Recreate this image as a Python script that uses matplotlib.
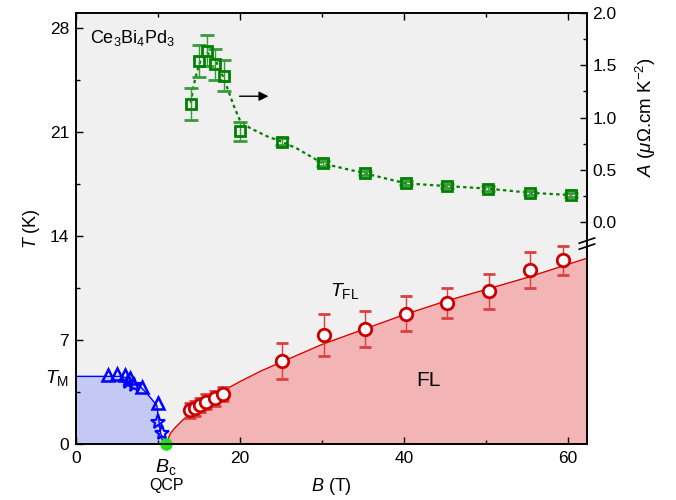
import matplotlib
matplotlib.use('Agg')
from matplotlib import pyplot as plt
from matplotlib.ticker import MultipleLocator, FixedLocator, FormatStrFormatter

plt.rcParams['font.family'] = 'Liberation Sans'
plt.rcParams['mathtext.fontset'] = 'custom'
plt.rcParams['mathtext.rm'] = 'Liberation Sans'
plt.rcParams['mathtext.it'] = 'Liberation Sans:italic'
plt.rcParams['font.size'] = 12.5

# magnetic order boundary (T_M)
tri_B = [3.9, 5.0, 6.0, 6.6, 8.0, 10.0]
tri_T = [4.63, 4.68, 4.63, 4.41, 3.85, 2.73]
star_B = [6.4, 7.1, 10.0, 10.45]
star_T = [4.2, 3.95, 1.5, 0.75]
tm_B = [0, 5.5, 6.5, 7.5, 8.5, 9.4, 9.85, 10.1, 10.3, 10.5, 10.8]
tm_T = [4.55, 4.55, 4.4, 4.05, 3.5, 2.9, 2.6, 1.6, 0.8, 0.3, 0.0]

# Fermi-liquid temperature T_FL
fl_B = [13.9, 14.5, 15.1, 15.9, 16.95, 17.96, 25.1, 30.2, 35.2, 40.2, 45.2, 50.3, 55.4, 59.35]
fl_T = [2.28, 2.4, 2.62, 2.84, 3.07, 3.36, 5.57, 7.32, 7.76, 8.77, 9.48, 10.27, 11.72, 12.35]
fl_err = [0.5, 0.5, 0.5, 0.5, 0.5, 0.5, 1.2, 1.4, 1.2, 1.2, 1.0, 1.2, 1.2, 1.0]
fit_B = [11.0, 11.5, 12.0, 13.0, 14.0, 16.0, 18.0, 20.0, 22.5, 25.0, 30.0, 35.0, 40.0, 45.0, 50.0, 55.0, 62.3]
fit_T = [0.0, 0.7, 1.05, 1.6, 2.1, 2.9, 3.6, 4.2, 4.9, 5.5, 6.7, 7.7, 8.7, 9.6, 10.4, 11.2, 12.5]

# A coefficient (right axis)
a_B = [14.0, 15.0, 16.0, 17.0, 18.05, 20.0, 25.1, 30.1, 35.2, 40.2, 45.2, 50.2, 55.3, 60.3]
a_val = [1.13, 1.54, 1.64, 1.51, 1.40, 0.87, 0.77, 0.56, 0.466, 0.37, 0.344, 0.32, 0.28, 0.258]
a_err = [0.15, 0.15, 0.15, 0.15, 0.15, 0.09, 0.03, 0.02, 0.02, 0.02, 0.02, 0.02, 0.02, 0.02]
aline_B = [14.0, 14.3, 14.7, 15.2, 16.0, 17.0, 18.0, 18.6, 19.3, 20.0, 21.2, 23.3, 25.1, 26.9,
           30.1, 35.2, 40.2, 45.2, 50.2, 55.3, 60.3]
aline_val = [1.14, 1.29, 1.42, 1.55, 1.62, 1.55, 1.38, 1.25, 1.1, 0.97, 0.90, 0.82, 0.768, 0.705,
             0.56, 0.466, 0.37, 0.344, 0.32, 0.28, 0.258]

Bc = 11.0
xmax = 62.3

fig = plt.figure(figsize=(6.76, 5.0), dpi=100)
ax = fig.add_axes([0.1124, 0.112, 0.7559, 0.862])
ax.set_facecolor('#f0f0f0')

ax.fill_between(tm_B, tm_T, 0, color='#c3c9f2', lw=0)
ax.fill_between(fit_B, fit_T, 0, color='#f2b4b4', lw=0)
ax.plot(tm_B, tm_T, '-', color='#0000ff', lw=1)
ax.plot(fit_B, fit_T, '-', color='#dd0000', lw=1)

ax.plot(tri_B, tri_T, '^', ms=9, mfc='none', mec='#0000ff', mew=1.8)
ax.plot(star_B, star_T, '*', ms=11, mfc='none', mec='#0000ff', mew=1.5)
ax.errorbar(fl_B, fl_T, yerr=fl_err, fmt='o', ms=9, mfc='white', mec='#cc0000', mew=2,
            ecolor='#d94040', elinewidth=1, capsize=4, capthick=1)
ax.plot([Bc], [0], 'o', ms=8, color='#22dd22', clip_on=False, zorder=10)

ax.set_xlim(0, xmax)
ax.set_ylim(0, 29)
ax.xaxis.set_major_locator(FixedLocator([0, 20, 40, 60]))
ax.xaxis.set_minor_locator(FixedLocator([10, 30, 50]))
ax.yaxis.set_major_locator(MultipleLocator(7))
ax.yaxis.set_minor_locator(MultipleLocator(3.5))
ax.tick_params(which='both', direction='in', top=True, right=False, width=1)
ax.tick_params(which='major', length=5, pad=5)
ax.tick_params(which='minor', length=3)
for s in ax.spines.values():
    s.set_linewidth(1.2)

ax.set_xlabel('$B$ (T)', fontsize=13)
ax.xaxis.set_label_coords(0.5, -0.075)
ax.set_ylabel('$T$ (K)', fontsize=13)
ax.yaxis.set_label_coords(-0.066, 0.5)

ax.text(1.7, 27.3, 'Ce$_3$Bi$_4$Pd$_3$', fontsize=13, ha='left', va='center')
ax.text(32.8, 10.3, '$T_{\\rm FL}$', fontsize=14, ha='center', va='center')
ax.text(43, 4.3, 'FL', fontsize=15, ha='center', va='center')
ax.text(-0.014, 4.45, '$T_{\\rm M}$', fontsize=14, ha='right', va='center',
        transform=ax.get_yaxis_transform())
ax.text(Bc, -0.03, '$B_{\\rm c}$', fontsize=14, ha='center', va='top',
        transform=ax.get_xaxis_transform())
ax.text(Bc, -0.08, 'QCP', fontsize=11.5, ha='center', va='top',
        transform=ax.get_xaxis_transform())

ax.annotate('', xy=(23.8, 23.4), xytext=(19.6, 23.4),
            arrowprops=dict(arrowstyle='-|>', color='black', lw=1, mutation_scale=14))

# right axis for A
ax2 = ax.twinx()
ax2.errorbar(a_B, a_val, yerr=a_err, fmt='s', ms=7.5, mfc='none', mec='#008000', mew=2,
             ecolor='#3a9a3a', elinewidth=1, capsize=5, capthick=1, zorder=5)
ax2.plot(aline_B, aline_val, color='#008000', lw=1.6, ls=(0, (1.5, 1.5)))
ax2.set_ylim(-2.124, 2.0)
ax2.yaxis.set_major_locator(FixedLocator([0, 0.5, 1.0, 1.5, 2.0]))
ax2.yaxis.set_minor_locator(FixedLocator([0.25, 0.75, 1.25, 1.75]))
ax2.yaxis.set_major_formatter(FormatStrFormatter('%.1f'))
ax2.tick_params(which='both', direction='in', width=1)
ax2.tick_params(which='major', length=5, pad=4)
ax2.tick_params(which='minor', length=3)
ax2.set_ylabel('$A$ ($\\mu\\Omega$.cm K$^{-2}$)', fontsize=13.5)
ax2.yaxis.set_label_coords(1.092, 0.7575)
for s in ax2.spines.values():
    s.set_linewidth(1.2)

# axis break marks on right spine
for yb in [0.472, 0.458]:
    ax.plot([0.985, 1.015], [yb - 0.006, yb + 0.006], color='black', lw=1.2,
            transform=ax.transAxes, clip_on=False, zorder=20)

fig.savefig('out.png', dpi=100)
